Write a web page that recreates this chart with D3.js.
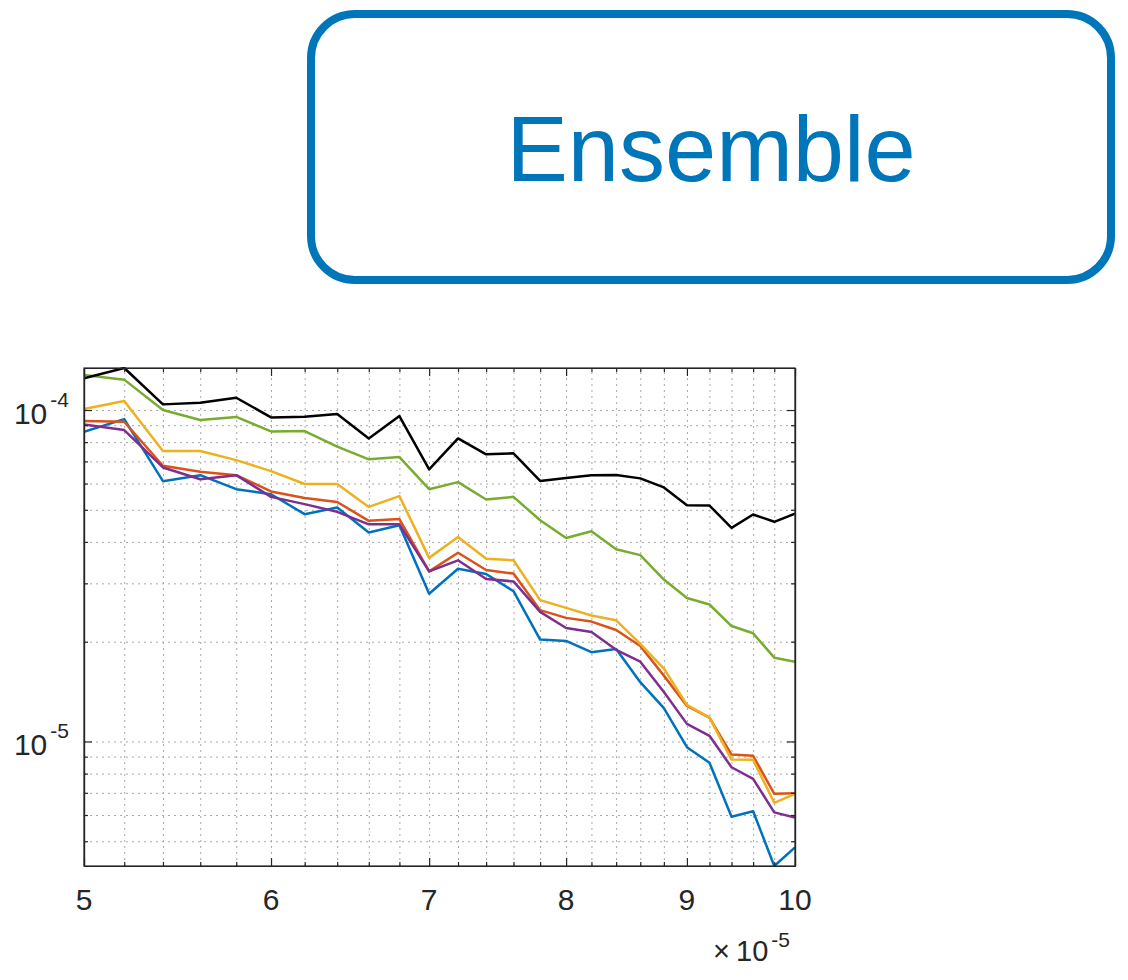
<!DOCTYPE html>
<html>
<head>
<meta charset="utf-8">
<script src="https://cdn.jsdelivr.net/npm/d3@7"></script>
<style>
  body { margin: 0; background: #fff; }
  text { font-family: "Liberation Sans", Arial, sans-serif; }
  .grid line { stroke: #a8a8a8; stroke-dasharray: 2,4; stroke-width: 1; }
  .grid path { display: none; }
  .ax path { stroke: #262626; stroke-width: 1.2; }
  .ax line { stroke: #262626; stroke-width: 1.2; }
  .ax text { display: none; }
</style>
</head>
<body>
<div id="chart"></div>
<script>
// x in units of 1e-5, y in units of 1e-5
const xs = [5.0, 5.2, 5.4, 5.6, 5.8, 6.0, 6.2, 6.4, 6.6, 6.8, 7.0, 7.2, 7.4,
            7.6, 7.8, 8.0, 8.2, 8.4, 8.6, 8.8, 9.0, 9.2, 9.4, 9.6, 9.8, 10.0];

const serieAzul = [8.60, 9.39, 6.10, 6.36, 5.77, 5.57, 4.85, 5.08, 4.27, 4.49, 2.79, 3.32, 3.20,
                   2.84, 2.03, 2.01, 1.86, 1.90, 1.51, 1.26, 0.961, 0.862, 0.593, 0.616, 0.421, 0.479];
const serieRoja = [9.26, 9.22, 6.79, 6.51, 6.36, 5.68, 5.43, 5.28, 4.63, 4.69, 3.26, 3.71, 3.29,
                   3.21, 2.49, 2.36, 2.30, 2.17, 1.94, 1.58, 1.28, 1.18, 0.913, 0.905, 0.695, 0.698];
const serieAmarilla = [10.07, 10.65, 7.52, 7.52, 7.06, 6.54, 5.98, 5.98, 5.10, 5.50, 3.58, 4.14, 3.56,
                       3.52, 2.67, 2.53, 2.40, 2.32, 1.97, 1.66, 1.29, 1.18, 0.882, 0.880, 0.653, 0.695];
const serieMorada = [9.05, 8.70, 6.71, 6.18, 6.36, 5.47, 5.20, 4.93, 4.52, 4.52, 3.26, 3.52, 3.09,
                     3.04, 2.46, 2.20, 2.14, 1.89, 1.74, 1.41, 1.13, 1.04, 0.836, 0.771, 0.611, 0.590];
const serieVerde = [12.76, 12.35, 10.0, 9.33, 9.53, 8.62, 8.64, 7.75, 7.10, 7.21, 5.77, 6.06, 5.37,
                    5.47, 4.65, 4.11, 4.31, 3.80, 3.65, 3.08, 2.71, 2.59, 2.23, 2.12, 1.79, 1.74];
const serieNegra = [12.47, 13.39, 10.40, 10.52, 10.89, 9.50, 9.55, 9.72, 8.21, 9.59, 6.62, 8.21, 7.35,
                    7.40, 6.11, 6.24, 6.36, 6.37, 6.22, 5.84, 5.16, 5.15, 4.41, 4.84, 4.60, 4.87];

const series = [
  { valores: serieAzul, color: "#0072BD" },
  { valores: serieRoja, color: "#D95319" },
  { valores: serieAmarilla, color: "#EDB120" },
  { valores: serieMorada, color: "#7E2F8E" },
  { valores: serieVerde, color: "#77AC30" },
  { valores: serieNegra, color: "#000000" }
];

const xMayores = [5, 6, 7, 8, 9, 10];
const xMenores = [5.2, 5.4, 5.6, 5.8, 6.2, 6.4, 6.6, 6.8, 7.2, 7.4, 7.6, 7.8,
                  8.2, 8.4, 8.6, 8.8, 9.2, 9.4, 9.6, 9.8];
const yMayores = [1, 10];
const yMenores = [0.5, 0.6, 0.7, 0.8, 0.9, 2, 3, 4, 5, 6, 7, 8, 9];
const yEtiquetas = [{ v: 10, base: "10", exp: "-4" }, { v: 1, base: "10", exp: "-5" }];
const titulo = "Ensemble";

const ancho = 1128, alto = 980;
const izq = 84, der = 795, arriba = 368, abajo = 866;

const svg = d3.select("#chart").append("svg")
  .attr("width", ancho).attr("height", alto);

// caja del titulo
svg.append("rect")
  .attr("x", 311).attr("y", 14)
  .attr("width", 800).attr("height", 266)
  .attr("rx", 44).attr("ry", 44)
  .attr("fill", "none")
  .attr("stroke", "#0076BA")
  .attr("stroke-width", 8);

svg.append("text")
  .attr("x", 711).attr("y", 181)
  .attr("text-anchor", "middle")
  .attr("font-size", 92)
  .attr("fill", "#0076BA")
  .text(titulo);

const todos = series.flatMap(s => s.valores);
const x = d3.scaleLog().domain([5, 10]).range([izq, der]);
const y = d3.scaleLog().domain([d3.min(todos), d3.max(todos)]).range([abajo, arriba]);

const alturaPlot = abajo - arriba, anchoPlot = der - izq;

// rejilla
svg.append("g").attr("class", "grid")
  .attr("transform", `translate(0,${abajo})`)
  .call(d3.axisBottom(x).tickValues(xMayores.concat(xMenores)).tickSize(-alturaPlot).tickFormat(""));
svg.append("g").attr("class", "grid")
  .attr("transform", `translate(${izq},0)`)
  .call(d3.axisLeft(y).tickValues(yMayores.concat(yMenores)).tickSize(-anchoPlot).tickFormat(""));

// lineas
svg.append("clipPath").attr("id", "recorte")
  .append("rect").attr("x", izq).attr("y", arriba - 1)
  .attr("width", anchoPlot).attr("height", alturaPlot + 2);

const linea = d3.line()
  .x((d, i) => x(xs[i]))
  .y(d => y(d));

svg.append("g").attr("clip-path", "url(#recorte)")
  .selectAll("path")
  .data(series)
  .enter()
  .append("path")
  .attr("d", d => linea(d.valores))
  .attr("fill", "none")
  .attr("stroke", d => d.color)
  .attr("stroke-width", 2.5)
  .attr("stroke-linejoin", "round");

// ejes con marcas hacia dentro
function marcas(g, eje, valores, largo) {
  g.call(eje.tickValues(valores).tickSizeInner(largo).tickSizeOuter(0).tickFormat(""));
}
const ejes = [
  [`translate(0,${abajo})`, d3.axisBottom(x), xMayores, -8],
  [`translate(0,${abajo})`, d3.axisBottom(x), xMenores, -4],
  [`translate(0,${arriba})`, d3.axisTop(x), xMayores, -8],
  [`translate(0,${arriba})`, d3.axisTop(x), xMenores, -4],
  [`translate(${izq},0)`, d3.axisLeft(y), yMayores, -8],
  [`translate(${izq},0)`, d3.axisLeft(y), yMenores, -4],
  [`translate(${der},0)`, d3.axisRight(y), yMayores, -8],
  [`translate(${der},0)`, d3.axisRight(y), yMenores, -4]
];
ejes.forEach(([t, eje, vals, largo]) => {
  svg.append("g").attr("class", "ax").attr("transform", t).call(g => marcas(g, eje, vals, largo));
});
// borde de la caja
svg.append("rect")
  .attr("x", izq).attr("y", arriba)
  .attr("width", anchoPlot).attr("height", alturaPlot)
  .attr("fill", "none").attr("stroke", "#262626").attr("stroke-width", 1.2);

// etiquetas x
svg.append("g").selectAll("text")
  .data(xMayores)
  .enter()
  .append("text")
  .attr("x", d => x(d))
  .attr("y", 910)
  .attr("text-anchor", "middle")
  .attr("font-size", 30)
  .attr("fill", "#262626")
  .text(d => d);

// etiquetas y
const ey = svg.append("g").selectAll("text")
  .data(yEtiquetas)
  .enter()
  .append("text")
  .attr("x", 69)
  .attr("y", d => y(d.v) + 14)
  .attr("text-anchor", "end")
  .attr("fill", "#262626");
ey.append("tspan").attr("font-size", 30).text(d => d.base);
ey.append("tspan").attr("font-size", 21).attr("dx", 3).attr("dy", -17).text(d => d.exp);

// multiplicador
const mult = svg.append("text")
  .attr("x", 790).attr("y", 961)
  .attr("text-anchor", "end")
  .attr("fill", "#262626");
mult.append("tspan").attr("font-size", 29).text("\u00d7");
mult.append("tspan").attr("font-size", 29).attr("dx", 6).text("10");
mult.append("tspan").attr("font-size", 21).attr("dx", 3).attr("dy", -14).text("-5");
</script>
</body>
</html>
